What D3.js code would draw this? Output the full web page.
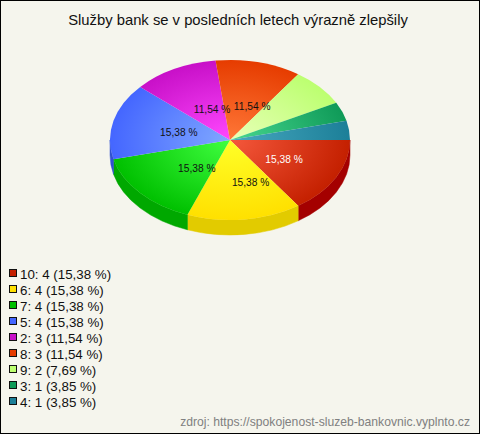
<!DOCTYPE html>
<html><head><meta charset="utf-8">
<script src="https://cdn.jsdelivr.net/npm/d3@7"></script>
<style>html,body{margin:0;padding:0;background:#f5f5ed}svg{display:block}text{font-family:"Liberation Sans",Arial,sans-serif}</style>
</head><body><svg id="c" width="480" height="434"></svg>
<script>
const titleText = "Služby bank se v posledních letech výrazně zlepšily";
const sourceText = "zdroj: https://spokojenost-sluzeb-bankovnic.vyplnto.cz";
const categories = ["10","6","7","5","2","8","9","3","4"];
const counts = [4,4,4,4,3,3,2,1,1];
const percents = ["15,38","15,38","15,38","15,38","11,54","11,54","7,69","3,85","3,85"];
const rimColors = ["#c42000","#ffe000","#00c000","#4466ff","#c810c8","#e63c00","#bcff70","#0f9a58","#1c7f98"];
const hubColors = ["#f5583c","#ffff28","#40ff40","#80a8ff","#ff48ff","#ff7838","#e8ffb8","#48d890","#48a8c0"];
const sideColors = ["#a40000","#e2cb00","#00a800","#3050d0","#a000a0","#b83000","#98cc58","#0c7a46","#166478"];

const W=480,H=434,cx=230,cy=140,rx=120,ry=80,depth=15;
const svg=d3.select("#c");
svg.append("rect").attr("x",.5).attr("y",.5).attr("width",W-1).attr("height",H-1)
  .attr("fill","#f5f5ed").attr("stroke","#000");
svg.append("text").attr("x",238).attr("y",25).attr("text-anchor","middle")
  .attr("font-size",14.8).attr("fill","#111").text(titleText);

const slices=d3.pie().sort(null).startAngle(Math.PI/2).endAngle(Math.PI*2.5)(counts);
const pt=a=>[cx+rx*Math.sin(a),cy-ry*Math.cos(a)];

// side wall: visible only for the front half of the ellipse
const frontStart=Math.PI/2, frontEnd=Math.PI*1.5;
const sides=svg.append("g");
slices.forEach((s,i)=>{
  const a0=Math.max(s.startAngle,frontStart), a1=Math.min(s.endAngle,frontEnd);
  if(a1<=a0) return;
  const [x0,y0]=pt(a0),[x1,y1]=pt(a1);
  sides.append("path").attr("fill",sideColors[i]).attr("stroke",sideColors[i]).attr("stroke-width",.5)
    .attr("d",`M${x0},${y0}A${rx},${ry} 0 0 1 ${x1},${y1}L${x1},${y1+depth}A${rx},${ry} 0 0 0 ${x0},${y0+depth}Z`);
});

// top surface
const defs=svg.append("defs");
slices.forEach((s,i)=>{
  const g=defs.append("radialGradient").attr("id","g"+i).attr("gradientUnits","userSpaceOnUse")
    .attr("cx",0).attr("cy",0).attr("r",rx);
  g.append("stop").attr("offset",0).attr("stop-color",hubColors[i]);
  g.append("stop").attr("offset",1).attr("stop-color",rimColors[i]);
});
const arc=d3.arc().innerRadius(0).outerRadius(rx);
const topFace=svg.append("g").attr("transform",`translate(${cx},${cy}) scale(1,${ry/rx})`);
topFace.selectAll("path").data(slices).join("path").attr("d",arc).attr("fill",(d,i)=>`url(#g${i})`);

// value labels (only slices above 10 %)
slices.forEach((s,i)=>{
  if(counts[i]/d3.sum(counts)<0.1) return;
  const m=(s.startAngle+s.endAngle)/2, c=Math.sin(m), n=-Math.cos(m), d2=Math.cos(2*(m-Math.PI/2));
  svg.append("text").attr("text-anchor","middle").attr("font-size",10.2)
    .attr("x",cx+55*c+2.3*n+7-4.8*d2).attr("y",cy+39*n+6.2-1.5*d2)
    .attr("fill",i===0?"#fff":"#111").text(`${percents[i]} %`);
});

// legend
const rowY=d3.scalePoint().domain(categories).range([274,402]);
const lg=svg.append("g");
categories.forEach((k,i)=>{
  const y=rowY(k);
  lg.append("rect").attr("x",9.5).attr("y",y-4.5).attr("width",7).attr("height",7)
    .attr("fill",rimColors[i]).attr("stroke","#111");
  lg.append("text").attr("x",20).attr("y",y+4.5).attr("font-size",13.33).attr("fill","#111")
    .text(`${k}: ${counts[i]} (${percents[i]} %)`);
});
svg.append("text").attr("x",470).attr("y",426).attr("text-anchor","end")
  .attr("font-size",12.17).attr("fill","#808080").text(sourceText);
</script></body></html>
